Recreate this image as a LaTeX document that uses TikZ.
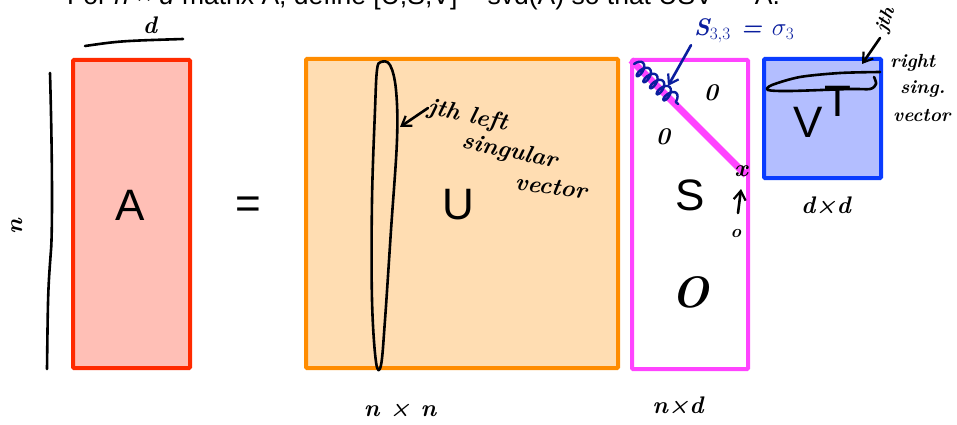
\documentclass[tikz,border=0pt]{standalone}
\usepackage{fontspec}
\newfontfamily\lsans{Liberation Sans}
\usetikzlibrary{arrows.meta,decorations.pathmorphing}
\definecolor{aRed}{HTML}{FF2A00}
\definecolor{aFill}{HTML}{FFBFB6}
\definecolor{uOr}{HTML}{FF8C00}
\definecolor{uFill}{HTML}{FFDDB2}
\definecolor{sMag}{HTML}{FF44FF}
\definecolor{vBlue}{HTML}{0A3CFF}
\definecolor{vFill}{HTML}{B3BEFF}
\definecolor{navy}{HTML}{0A1E9E}
\tikzset{
  mat/.style={draw, line width=4pt, rounded corners=1pt, inner sep=0pt},
  biglbl/.style={font=\lsans\fontsize{44}{48}\selectfont, inner sep=0pt},
  hand/.style={line width=2.6pt, line cap=round, line join=round},
  handtxt/.style={font=\bfseries\itshape\fontsize{24}{26}\selectfont, inner sep=0pt},
  smalltxt/.style={font=\bfseries\itshape\fontsize{19}{21}\selectfont, inner sep=0pt},
  handarrow/.style={hand, -{Straight Barb[length=9pt,width=12pt,line width=2.2pt]}},
}
\begin{document}
\begin{tikzpicture}[x=1pt,y=-1pt]
\useasboundingbox (0,0) rectangle (957,425);
% title (cut off at top)
\node[anchor=base west, inner sep=0pt, font=\lsans\fontsize{26.5}{30}\selectfont] (title) at (67,5)
  {For \textit{n} × \textit{d} matrix A, define [U,S,V] = svd(A) so that USV\textsuperscript{T} = A.};
% matrices
\node[mat, draw=aRed, fill=aFill, minimum width=117pt, minimum height=308pt] (A) at (131.5,214) {};
\node[mat, draw=uOr, fill=uFill, minimum width=312pt, minimum height=309pt] (U) at (462,213.5) {};
\node[mat, draw=sMag, fill=white, minimum width=116pt, minimum height=309pt] (S) at (690,214.5) {};
\node[mat, draw=vBlue, fill=vFill, minimum width=117pt, minimum height=119pt] (V) at (822.5,118.5) {};
% big labels
\node[biglbl] (lA) at (130,205) {A};
\node[biglbl] (eq) at (248,208) {=};
\node[biglbl] (lU) at (458,205) {U};
\node[biglbl] (lS) at (690,195) {S};
\node[biglbl] (lV) at (808,122) {V};
\node[biglbl] (lT) at (838,101) {T};
% diagonal of S
\coordinate (dEnd) at (746,175);
\draw[sMag, line width=7pt] (S.north west) ++(1,2) -- (dEnd);
% A dimensions
\node[handtxt] (dA) at (150,25) {d};
\coordinate (dl1) at (85,46);
\coordinate (dl2) at (183,39);
\draw[hand] (dl1) .. controls (120,41) .. (dl2);
\coordinate (nl1) at (50,73);
\coordinate (nl2) at (47,369);
\draw[hand] (nl1) .. controls (53,180) and (52,240) .. (51,250) .. controls (48,290) .. (nl2);
\node[handtxt, rotate=90] (nA) at (17,227) {n};
% U annotation
\draw[hand] plot[smooth cycle, tension=0.6] coordinates {(381,62) (390,65) (396,90) (397,140) (391,230) (385,320) (381,365) (376,362) (372,300) (372,200) (375,110) (377,70)};
\node[handtxt, rotate=-12, anchor=west] (jl) at (428,108) {jth left};
\node[handtxt, rotate=-12, anchor=west] (sv1) at (462,142) {singular};
\node[handtxt, rotate=-8, anchor=west] (sv2) at (515,182) {vector};
\coordinate (uTip) at (400,127);
\draw[handarrow] (jl.west) -- (uTip);
\node[handtxt] (nn) at (400,410) {n × n};
% S annotations
\node[handtxt, text=navy, anchor=west] (s33) at (694,31) {S$_{3,3}$ = $\sigma_3$};
\coordinate (sTip) at (668,86);
\draw[hand, navy, -{Straight Barb[length=9pt,width=12pt,line width=2.2pt]}] (s33.south west) ++(-3,2) -- (sTip);
\coordinate (c1) at (634,64);
\coordinate (c2) at (678,104);
\draw[hand, navy, line width=2.4pt, decorate, decoration={coil, amplitude=7pt, segment length=9pt}] (c1) -- (c2);
\node[handtxt] (z1) at (711,93) {0};
\node[handtxt] (z2) at (663,137) {0};
\node[handtxt] (xx) at (741,171) {x};
\coordinate (arTip) at (741,189);
\node[handtxt, font=\bfseries\itshape\fontsize{18}{20}\selectfont] (z3) at (736,234) {o};
\draw[handarrow] (738,213) -- (arTip);
\node[handtxt, font=\bfseries\itshape\fontsize{44}{48}\selectfont] (z4) at (690,292) {O};
\node[handtxt] (nd) at (678,405) {n×d};
% V annotations
\draw[hand] plot[smooth, tension=0.5] coordinates {(880,72) (840,73) (800,77) (772,85) (768,90) (790,91) (850,89) (870,89) (876,84) (874,77)};
\node[smalltxt, rotate=70] (jth) at (886,20) {jth};
\coordinate (vTip) at (862,64);
\draw[handarrow] (880,38) .. controls (872,50) .. (vTip);
\node[smalltxt, anchor=west] (rt) at (890,63) {right};
\node[smalltxt, anchor=west] (sg) at (900,89) {sing.};
\node[smalltxt, anchor=west] (vc) at (893,115) {vector};
\node[handtxt] (dd) at (826,205) {d×d};
\end{tikzpicture}
\end{document}
